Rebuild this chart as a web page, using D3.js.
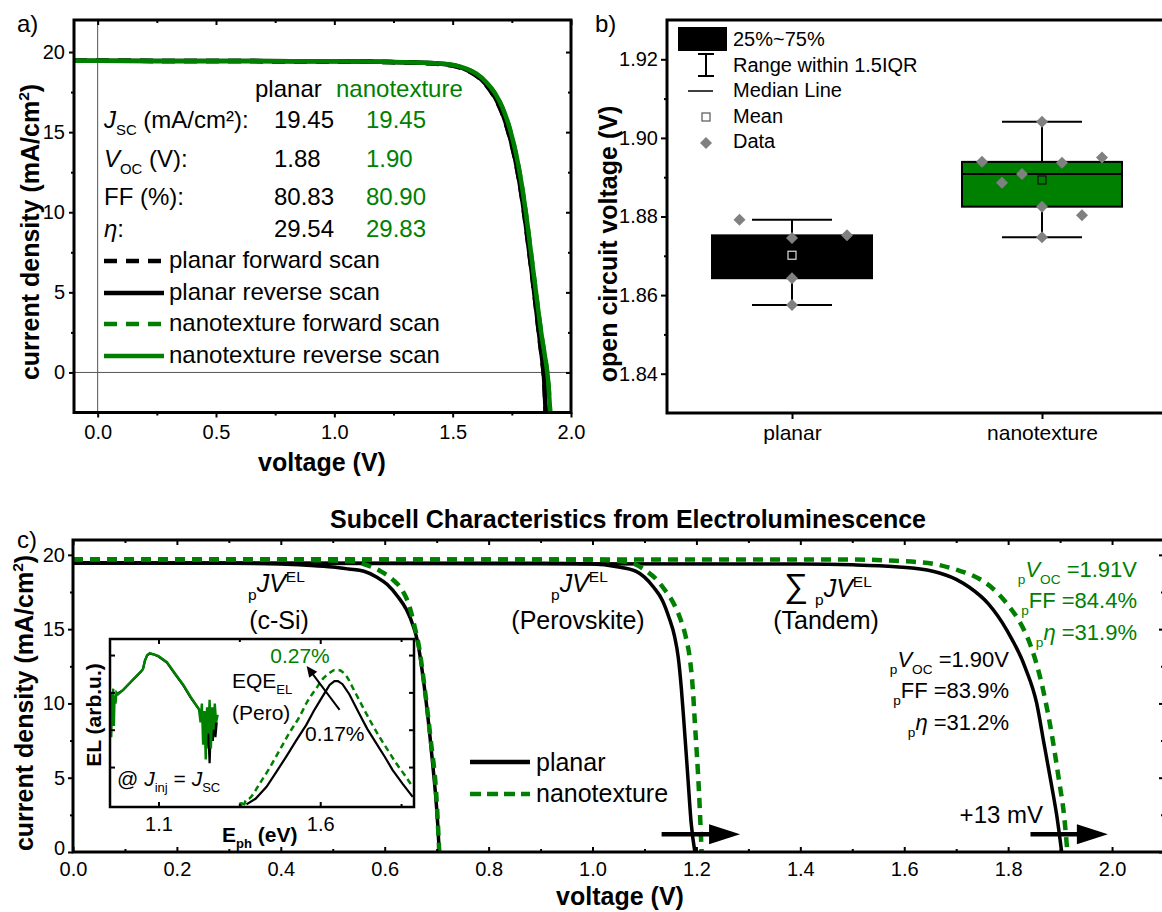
<!DOCTYPE html>
<html>
<head>
<meta charset="utf-8">
<script src="https://cdn.jsdelivr.net/npm/d3@7"></script>
<style>
  body { margin: 0; background: #fff; }
  svg { font-family: "Liberation Sans", Arial, sans-serif; }
</style>
</head>
<body>
<div id="fig"></div>
<script>
const green = '#008000';

// ---- panel a: measured J-V scans (V, J)
const planarRev = [[-0.1,19.45],[0,19.45],[0.5,19.44],[1.0,19.42],[1.2,19.39],[1.35,19.34],[1.46,19.25],[1.52,19.1],[1.56,18.88],[1.6,18.55],[1.64,18.0],[1.68,17.15],[1.71,16.2],[1.74,14.8],[1.77,12.9],[1.79,11.2],[1.81,9.1],[1.835,6.2],[1.855,3.7],[1.87,1.8],[1.88,0.6],[1.886,-0.3],[1.893,-2.5]];
const planarFwd = [[-0.1,19.45],[0,19.45],[0.5,19.44],[1.0,19.41],[1.2,19.38],[1.35,19.33],[1.46,19.23],[1.52,19.08],[1.56,18.86],[1.6,18.52],[1.64,17.97],[1.68,17.1],[1.71,16.15],[1.74,14.75],[1.77,12.85],[1.79,11.15],[1.81,9.05],[1.835,6.15],[1.855,3.65],[1.87,1.75],[1.88,0.55],[1.886,-0.35],[1.893,-2.5]];
const nanoRev = [[-0.1,19.45],[0,19.45],[0.5,19.44],[1.0,19.42],[1.2,19.39],[1.35,19.35],[1.46,19.27],[1.52,19.14],[1.56,18.95],[1.6,18.65],[1.64,18.15],[1.68,17.4],[1.71,16.55],[1.74,15.3],[1.77,13.5],[1.79,11.9],[1.81,9.9],[1.835,7.0],[1.858,4.3],[1.876,2.3],[1.89,1.0],[1.898,0.2],[1.904,-0.6],[1.912,-2.5]];
const nanoFwd = [[-0.1,19.45],[0,19.45],[0.5,19.44],[1.0,19.41],[1.2,19.38],[1.35,19.34],[1.46,19.26],[1.52,19.12],[1.56,18.93],[1.6,18.62],[1.64,18.12],[1.68,17.37],[1.71,16.5],[1.74,15.25],[1.77,13.45],[1.79,11.85],[1.81,9.85],[1.835,6.95],[1.858,4.25],[1.876,2.25],[1.89,0.95],[1.898,0.15],[1.904,-0.65],[1.912,-2.5]];
const tableLabels = ['Jsc', 'Voc', 'FF', 'eta'];
const planarParams = ['19.45', '1.88', '80.83', '29.54'];
const nanoParams = ['19.45', '1.90', '80.90', '29.83'];
const scanNames = ['planar forward scan', 'planar reverse scan', 'nanotexture forward scan', 'nanotexture reverse scan'];
const aXMajor = [0, 0.5, 1, 1.5, 2], aXMinor = [0.25, 0.75, 1.25, 1.75];
const aYMajor = [0, 5, 10, 15, 20], aYMinor = [2.5, 7.5, 12.5, 17.5];

// ---- panel b: open circuit voltages
const categories = ['planar', 'nanotexture'];
const planarVoc = [1.8792, 1.8745, 1.8752, 1.8643, 1.8575];
const planarJitter = [-0.21, 0, 0.22, 0, 0];
const nanoVoc = [1.8939, 1.8886, 1.8908, 1.9041, 1.8825, 1.8747, 1.8937, 1.8803, 1.8950];
const nanoJitter = [-0.24, -0.16, -0.08, 0, 0, 0, 0.08, 0.16, 0.24];
const bYMajor = [1.84, 1.86, 1.88, 1.90, 1.92], bYMinor = [1.85, 1.87, 1.89, 1.91];
const bLegend = ['25%~75%', 'Range within 1.5IQR', 'Median Line', 'Mean', 'Data'];

// ---- panel c: pseudo J-V from EL (V, J)
const siPlanar = [[0,19.45],[0.3,19.43],[0.4,19.38],[0.45,19.3],[0.5,19.18],[0.53,19.05],[0.56,18.9],[0.585,18.5],[0.605,18.0],[0.625,17.2],[0.642,16.3],[0.655,15.2],[0.663,14.2],[0.677,10.9],[0.691,6.4],[0.702,1.9],[0.705,0]];
const siNano = [[0,19.7],[0.4,19.68],[0.5,19.62],[0.541,19.55],[0.57,19.25],[0.592,18.9],[0.615,18.35],[0.634,17.6],[0.647,16.6],[0.656,15.4],[0.667,13.6],[0.677,11.0],[0.689,7.4],[0.699,4.0],[0.705,0]];
const peroPlanar = [[0,19.45],[0.9,19.43],[1.0,19.38],[1.047,19.2],[1.083,18.9],[1.1,18.5],[1.118,17.8],[1.135,16.9],[1.147,15.8],[1.158,14.5],[1.165,13.1],[1.171,11.0],[1.176,8.7],[1.183,5.3],[1.19,1.9],[1.197,0]];
const peroNano = [[0,19.7],[1.0,19.68],[1.06,19.55],[1.083,19.35],[1.104,18.9],[1.123,18.35],[1.14,17.6],[1.155,16.8],[1.168,15.8],[1.18,14.4],[1.187,13.1],[1.193,11.0],[1.197,8.7],[1.205,4.0],[1.21,0]];
const tandemPlanar = [[0,19.45],[1.4,19.38],[1.5,19.33],[1.583,19.2],[1.655,18.9],[1.7,18.35],[1.726,17.8],[1.762,16.7],[1.798,14.9],[1.833,12.4],[1.855,10.0],[1.869,7.3],[1.883,4.6],[1.894,2.35],[1.903,0]];
const tandemNano = [[0,19.7],[1.5,19.68],[1.583,19.6],[1.655,19.4],[1.7,19.0],[1.726,18.7],[1.765,17.9],[1.798,16.7],[1.822,15.5],[1.84,14.2],[1.862,11.7],[1.88,8.7],[1.898,4.8],[1.908,2.35],[1.914,0]];
const shiftArrows = [[1.133, 1.284, 1.2], [1.843, 1.992, 1.2]]; // [from V, to V, at J]
const cXMajor = [0, 0.2, 0.4, 0.6, 0.8, 1.0, 1.2, 1.4, 1.6, 1.8, 2.0];
const cXMinor = [0.1, 0.3, 0.5, 0.7, 0.9, 1.1, 1.3, 1.5, 1.7, 1.9];
const cYMajor = [0, 5, 10, 15, 20], cYMinor = [2.5, 7.5, 12.5, 17.5];

// ---- inset: EL spectra (E_ph in eV, EL arb. u.)
const elSiPlanar = [[0.95,2.6],[0.97,2.95],[0.99,3.06],[1.02,3.33],[1.045,3.55],[1.052,3.63],[1.058,3.85],[1.065,3.99],[1.073,4.04],[1.085,4.02],[1.10,3.96],[1.126,3.8],[1.15,3.5],[1.177,3.18],[1.20,2.85],[1.229,2.5],[1.24,2.2],[1.248,1.5],[1.252,2.3],[1.258,1.1],[1.262,2.1],[1.268,1.7],[1.272,2.5],[1.276,1.8],[1.28,2.2]];
const elSiNano = [[0.950,2.3],[0.952,3.0],[0.954,1.8],[0.956,2.9],[0.958,2.4],[0.960,3.1],[0.962,2.1],[0.964,2.9],[0.967,2.7],[0.970,3.0],[0.975,2.95],[0.99,3.06],[1.02,3.33],[1.045,3.55],[1.052,3.62],[1.058,3.85],[1.065,4.0],[1.073,4.05],[1.085,4.02],[1.10,3.97],[1.126,3.81],[1.15,3.52],[1.177,3.2],[1.20,2.87],[1.225,2.55],[1.230,2.2],[1.234,2.7],[1.238,1.6],[1.242,2.5],[1.246,1.2],[1.250,2.6],[1.254,1.9],[1.258,2.8],[1.262,1.5],[1.266,2.6],[1.270,2.0],[1.274,2.7],[1.278,2.2],[1.283,2.4]];
const elPeroPlanar = [[1.372,0.0],[1.40,0.15],[1.434,0.47],[1.465,0.88],[1.495,1.28],[1.525,1.7],[1.557,2.13],[1.58,2.5],[1.598,2.76],[1.615,3.0],[1.629,3.2],[1.644,3.3],[1.655,3.3],[1.669,3.22],[1.69,2.95],[1.72,2.44],[1.745,2.03],[1.773,1.64],[1.80,1.27],[1.824,0.92],[1.855,0.55],[1.886,0.2]];
const elPeroNano = [[1.351,0.05],[1.356,-0.02],[1.36,0.1],[1.365,0.0],[1.37,0.12],[1.38,0.15],[1.413,0.56],[1.445,1.0],[1.475,1.46],[1.505,1.92],[1.536,2.35],[1.56,2.75],[1.588,3.11],[1.61,3.38],[1.629,3.52],[1.645,3.6],[1.656,3.6],[1.68,3.45],[1.705,3.05],[1.731,2.62],[1.757,2.2],[1.783,1.81],[1.81,1.44],[1.835,1.1],[1.86,0.8],[1.886,0.47]];
const eqeArrow = [[1.66, 2.53], [1.558, 3.71]];
const insetXMajor = [1.1, 1.6], insetXMinor = [1.35, 1.85], insetYTicks = [1, 2, 3, 4];

const svg = d3.select('#fig').append('svg')
    .attr('width', 1162)
    .attr('height', 912);

function addAxis(g, scale, side, pos, vals, size, pad, fmt, fs) {
    let gen = {bottom: d3.axisBottom, top: d3.axisTop, left: d3.axisLeft, right: d3.axisRight}[side](scale)
        .tickValues(vals)
        .tickSize(size)
        .tickPadding(pad)
        .tickFormat(fmt || (() => ''));
    let tr = (side === 'bottom' || side === 'top') ? `translate(0,${pos})` : `translate(${pos},0)`;
    let a = g.append('g')
        .attr('transform', tr)
        .call(gen)
        .attr('font-family', null)
        .attr('font-size', fs || 20);
    a.select('.domain').remove();
    a.selectAll('.tick line').attr('stroke', '#000').attr('stroke-width', 2);
    a.selectAll('.tick text').attr('fill', '#000');
    return a;
}

function frame(g, x, y, color) {
    g.append('rect')
        .attr('x', x.range()[0]).attr('y', y.range()[1])
        .attr('width', x.range()[1] - x.range()[0])
        .attr('height', y.range()[0] - y.range()[1])
        .attr('fill', color || 'none')
        .attr('stroke', '#000')
        .attr('stroke-width', 3);
}

// text with sub/superscripts; parts are strings or [string, {i, sub, sup, big}]
function rich(g, x, y, parts, o) {
    let t = g.append('text')
        .attr('x', x).attr('y', y)
        .attr('font-size', o.size)
        .attr('fill', o.color || '#000')
        .attr('text-anchor', o.anchor || 'start');
    if (o.bold) t.attr('font-weight', 'bold');
    if (o.rotate) t.attr('transform', `rotate(-90,${x},${y})`);
    let shift = 0;
    parts.forEach(p => {
        let [str, st] = typeof p === 'string' ? [p, {}] : p;
        let target = st.sub ? o.size * 0.3 : st.sup ? -o.size * 0.42 : 0;
        let ts = t.append('tspan').text(str).attr('dy', target - shift);
        shift = target;
        if (st.sub || st.sup) ts.attr('font-size', o.size * 0.62);
        if (st.big) ts.attr('font-size', o.size * 1.35);
        if (st.i) ts.attr('font-style', 'italic');
    });
    return t;
}

function plain(g, x, y, str, size, o) {
    o = o || {};
    return g.append('text')
        .attr('x', x).attr('y', y)
        .attr('font-size', size)
        .attr('fill', o.color || '#000')
        .attr('font-weight', o.bold ? 'bold' : null)
        .attr('text-anchor', o.anchor || 'start')
        .text(str);
}

// ================= panel a =================
const ga = svg.append('g');
const xa = d3.scaleLinear().domain([-0.1, 2.0]).range([74, 571]);
const ya = d3.scaleLinear().domain([-2.5, 22]).range([412.5, 20]);

ga.append('line').attr('x1', xa(0)).attr('x2', xa(0)).attr('y1', 20).attr('y2', 412.5)
    .attr('stroke', '#555').attr('stroke-width', 1);
ga.append('line').attr('x1', 74).attr('x2', 571).attr('y1', ya(0)).attr('y2', ya(0))
    .attr('stroke', '#555').attr('stroke-width', 1);

const lineA = d3.line().x(d => xa(d[0])).y(d => ya(d[1])).curve(d3.curveMonotoneX);
const scans = [
    {data: planarFwd, color: '#000', dash: '13,9'},
    {data: nanoFwd, color: green, dash: '13,9'},
    {data: planarRev, color: '#000', dash: null},
    {data: nanoRev, color: green, dash: null}
];
ga.selectAll('path.scan')
    .data(scans)
    .join('path')
    .attr('class', 'scan')
    .attr('d', d => lineA(d.data))
    .attr('fill', 'none')
    .attr('stroke', d => d.color)
    .attr('stroke-width', 4.5)
    .attr('stroke-dasharray', d => d.dash);

addAxis(ga, xa, 'bottom', 412.5, aXMajor, 5, 7.5, d3.format('.1f'));
addAxis(ga, xa, 'bottom', 412.5, aXMinor, 3, 0);
addAxis(ga, xa, 'top', 20, aXMajor, -5, 0);
addAxis(ga, xa, 'top', 20, aXMinor, -3, 0);
addAxis(ga, ya, 'left', 74, aYMajor, 5, 4, d3.format('d'));
addAxis(ga, ya, 'left', 74, aYMinor, 3, 0);
addAxis(ga, ya, 'right', 571, aYMajor, -5, 0);
addAxis(ga, ya, 'right', 571, aYMinor, -3, 0);
frame(ga, xa, ya);

plain(ga, 17, 32, 'a)', 24);
plain(ga, 322, 471, 'voltage (V)', 25, {bold: true, anchor: 'middle'});
rich(ga, 39, 232, ['current density (mA/cm', ['2', {sup: true}], ')'], {size: 25, bold: true, anchor: 'middle', rotate: true});

// parameter table
plain(ga, 255, 97, 'planar', 24);
plain(ga, 336, 97, 'nanotexture', 24, {color: green});
const rowBase = [128, 167, 205, 237];
const rowLabel = {
    Jsc: [['J', {i: true}], ['SC', {sub: true}], ' (mA/cm²):'],
    Voc: [['V', {i: true}], ['OC', {sub: true}], ' (V):'],
    FF: ['FF (%):'],
    eta: [['η', {i: true}], ':']
};
tableLabels.forEach((k, i) => {
    rich(ga, 104, rowBase[i], rowLabel[k], {size: 24});
    plain(ga, 274, rowBase[i], planarParams[i], 24);
    plain(ga, 366, rowBase[i], nanoParams[i], 24, {color: green});
});

// scan legend
const legBase = [268, 300, 331, 363];
const legOrder = [scans[0], scans[2], scans[1], scans[3]];
legOrder.forEach((s, i) => {
    ga.append('line')
        .attr('x1', 104).attr('x2', 164)
        .attr('y1', legBase[i] - 7).attr('y2', legBase[i] - 7)
        .attr('stroke', s.color).attr('stroke-width', 4.5)
        .attr('stroke-dasharray', s.dash);
    plain(ga, 169, legBase[i], scanNames[i], 24);
});

// ================= panel b =================
const gb = svg.append('g');
const xb = d3.scaleLinear().domain([0.5, 2.5]).range([667, 1167]);
const yb = d3.scaleLinear().domain([1.83, 1.93]).range([413, 20]);

const groups = [
    {vals: planarVoc, jit: planarJitter, fill: '#000', meanStroke: '#ddd'},
    {vals: nanoVoc, jit: nanoJitter, fill: green, meanStroke: '#111'}
];
const diamond = d3.symbol().type(d3.symbolSquare).size(72);

groups.forEach((gr, i) => {
    let s = gr.vals.slice().sort(d3.ascending);
    let q1 = d3.quantile(s, 0.25), med = d3.quantile(s, 0.5), q3 = d3.quantile(s, 0.75);
    let iqr = q3 - q1;
    let lo = d3.min(s.filter(v => v >= q1 - 1.5 * iqr));
    let hi = d3.max(s.filter(v => v <= q3 + 1.5 * iqr));
    let mean = d3.mean(s);
    let c = i + 1;
    let bg = gb.append('g');

    bg.append('line').attr('x1', xb(c)).attr('x2', xb(c)).attr('y1', yb(hi)).attr('y2', yb(lo))
        .attr('stroke', '#000').attr('stroke-width', 2);
    [lo, hi].forEach(v => bg.append('line')
        .attr('x1', xb(c - 0.16)).attr('x2', xb(c + 0.16))
        .attr('y1', yb(v)).attr('y2', yb(v))
        .attr('stroke', '#000').attr('stroke-width', 2));
    bg.append('rect')
        .attr('x', xb(c - 0.32)).attr('width', xb(c + 0.32) - xb(c - 0.32))
        .attr('y', yb(q3)).attr('height', yb(q1) - yb(q3))
        .attr('fill', gr.fill).attr('stroke', '#000').attr('stroke-width', 2);
    bg.append('line')
        .attr('x1', xb(c - 0.32)).attr('x2', xb(c + 0.32))
        .attr('y1', yb(med)).attr('y2', yb(med))
        .attr('stroke', '#000').attr('stroke-width', 2);
    bg.selectAll('path.pt')
        .data(gr.vals)
        .join('path')
        .attr('class', 'pt')
        .attr('d', diamond)
        .attr('transform', (d, j) => `translate(${xb(c + gr.jit[j])},${yb(d)}) rotate(45)`)
        .attr('fill', '#808080');
    bg.append('rect')
        .attr('x', xb(c) - 4).attr('y', yb(mean) - 4)
        .attr('width', 8).attr('height', 8)
        .attr('fill', 'none').attr('stroke', gr.meanStroke).attr('stroke-width', 1.2);
});

addAxis(gb, yb, 'left', 667, bYMajor, 6, 3, d3.format('.2f'));
addAxis(gb, yb, 'left', 667, bYMinor, 3, 0);
addAxis(gb, xb, 'bottom', 413, [1, 2], 6, 6, (d, i) => categories[i], 21);
frame(gb, xb, yb);

plain(gb, 595, 32, 'b)', 24);
gb.append('text')
    .attr('transform', 'translate(617,244) rotate(-90)')
    .attr('text-anchor', 'middle')
    .attr('font-size', 25).attr('font-weight', 'bold')
    .text('open circuit voltage (V)');

// legend
const lgY = [46, 72, 97, 123, 148];
bLegend.forEach((t, i) => plain(gb, 733, lgY[i], t, 20));
gb.append('rect').attr('x', 678).attr('y', 27).attr('width', 49).attr('height', 24).attr('fill', '#000');
gb.append('line').attr('x1', 706).attr('x2', 706).attr('y1', 54).attr('y2', 76).attr('stroke', '#000').attr('stroke-width', 2);
[54, 76].forEach(v => gb.append('line').attr('x1', 698).attr('x2', 714).attr('y1', v).attr('y2', v).attr('stroke', '#000').attr('stroke-width', 2));
gb.append('line').attr('x1', 688).attr('x2', 713).attr('y1', 91).attr('y2', 91).attr('stroke', '#000').attr('stroke-width', 1.5);
gb.append('rect').attr('x', 702).attr('y', 113).attr('width', 8).attr('height', 8)
    .attr('fill', '#fff').attr('stroke', '#555').attr('stroke-width', 1.2);
gb.append('path').attr('d', diamond).attr('transform', 'translate(706,143) rotate(45)').attr('fill', '#808080');

// ================= panel c =================
const gc = svg.append('g');
const xc = d3.scaleLinear().domain([0, 2.1]).range([73, 1164]);
const yc = d3.scaleLinear().domain([0, 21]).range([852, 540]);
const lineC = d3.line().x(d => xc(d[0])).y(d => yc(d[1])).curve(d3.curveMonotoneX);

const subcells = [
    {data: siPlanar, color: '#000', w: 3.5, dash: null},
    {data: peroPlanar, color: '#000', w: 3.5, dash: null},
    {data: tandemPlanar, color: '#000', w: 3.5, dash: null},
    {data: siNano, color: green, w: 4.5, dash: '10,7'},
    {data: peroNano, color: green, w: 4.5, dash: '10,7'},
    {data: tandemNano, color: green, w: 4.5, dash: '10,7'}
];
gc.selectAll('path.jv')
    .data(subcells)
    .join('path')
    .attr('class', 'jv')
    .attr('d', d => lineC(d.data))
    .attr('fill', 'none')
    .attr('stroke', d => d.color)
    .attr('stroke-width', d => d.w)
    .attr('stroke-dasharray', d => d.dash);

// shift arrows
shiftArrows.forEach(a => {
    let x0 = xc(a[0]), x1 = xc(a[1]), y = yc(a[2]);
    gc.append('line').attr('x1', x0).attr('x2', x1 - 28).attr('y1', y).attr('y2', y)
        .attr('stroke', '#000').attr('stroke-width', 4.5);
    gc.append('path').attr('d', `M${x1},${y}L${x1 - 31},${y - 10}L${x1 - 31},${y + 10}Z`).attr('fill', '#000');
});

addAxis(gc, xc, 'bottom', 852, cXMajor, -5, 10, d3.format('.1f'));
addAxis(gc, xc, 'bottom', 852, cXMinor, -3, 0);
addAxis(gc, xc, 'top', 540, cXMajor, -5, 0);
addAxis(gc, xc, 'top', 540, cXMinor, -3, 0);
addAxis(gc, yc, 'left', 73, cYMajor, 5, 3, d3.format('d'))
    .selectAll('.tick text').filter(d => d === 0).attr('dy', '0.1em');
addAxis(gc, yc, 'left', 73, cYMinor, 3, 0);
addAxis(gc, yc, 'right', 1164, cYMajor, -5, 0);
addAxis(gc, yc, 'right', 1164, cYMinor, -3, 0);
frame(gc, xc, yc);

plain(gc, 17, 548, 'c)', 24);
plain(gc, 628, 528, 'Subcell Characteristics from Electroluminescence', 25, {bold: true, anchor: 'middle'});
plain(gc, 620, 905, 'voltage (V)', 25, {bold: true, anchor: 'middle'});
rich(gc, 33, 703, ['current density (mA/cm', ['2', {sup: true}], ')'], {size: 25, bold: true, anchor: 'middle', rotate: true});

const pJV = [['p', {sub: true}], ['JV', {i: true}], ['EL', {sup: true}]];
rich(gc, 248, 592, pJV, {size: 25});
plain(gc, 279, 629, '(c-Si)', 25, {anchor: 'middle'});
rich(gc, 551, 592, pJV, {size: 25});
plain(gc, 578, 629, '(Perovskite)', 25, {anchor: 'middle'});
rich(gc, 784, 597, [['∑', {big: true}], ' '].concat(pJV), {size: 25});
plain(gc, 826, 629, '(Tandem)', 25, {anchor: 'middle'});

rich(gc, 1009, 667, [['p', {sub: true}], ['V', {i: true}], ['OC', {sub: true}], ' =1.90V'], {size: 22, anchor: 'end'});
rich(gc, 1009, 698, [['p', {sub: true}], 'FF =83.9%'], {size: 22, anchor: 'end'});
rich(gc, 1009, 730, [['p', {sub: true}], ['η', {i: true}], ' =31.2%'], {size: 22, anchor: 'end'});
rich(gc, 1137, 577, [['p', {sub: true}], ['V', {i: true}], ['OC', {sub: true}], ' =1.91V'], {size: 22, anchor: 'end', color: green});
rich(gc, 1137, 608, [['p', {sub: true}], 'FF =84.4%'], {size: 22, anchor: 'end', color: green});
rich(gc, 1137, 640, [['p', {sub: true}], ['η', {i: true}], ' =31.9%'], {size: 22, anchor: 'end', color: green});
plain(gc, 1043, 823, '+13 mV', 24, {anchor: 'end'});

// legend
gc.append('line').attr('x1', 470).attr('x2', 530).attr('y1', 762).attr('y2', 762)
    .attr('stroke', '#000').attr('stroke-width', 4.5);
gc.append('line').attr('x1', 470).attr('x2', 530).attr('y1', 794).attr('y2', 794)
    .attr('stroke', green).attr('stroke-width', 4.5).attr('stroke-dasharray', '11,6');
plain(gc, 536, 771, 'planar', 25);
plain(gc, 536, 802, 'nanotexture', 25);

// ================= inset =================
const gi = svg.append('g');
const xi = d3.scaleLinear().domain([0.95, 1.89]).range([110, 414]);
const yi = d3.scaleLinear().domain([-0.07, 4.43]).range([807, 639]);
gi.append('rect').attr('x', 110).attr('y', 639).attr('width', 304).attr('height', 168).attr('fill', '#fff');
gi.append('clipPath').attr('id', 'inclip').append('rect')
    .attr('x', 110).attr('y', 639).attr('width', 304).attr('height', 168);
const lineI = d3.line().x(d => xi(d[0])).y(d => yi(d[1]));
const spectra = [
    {data: elSiPlanar, color: '#000', w: 2.2, dash: null},
    {data: elSiNano, color: green, w: 2.4, dash: null},
    {data: elPeroPlanar, color: '#000', w: 2.2, dash: null},
    {data: elPeroNano, color: green, w: 2.5, dash: '6,4'}
];
gi.append('g').attr('clip-path', 'url(#inclip)')
    .selectAll('path')
    .data(spectra)
    .join('path')
    .attr('d', d => lineI.curve(d.dash ? d3.curveMonotoneX : d3.curveLinear)(d.data))
    .attr('fill', 'none')
    .attr('stroke', d => d.color)
    .attr('stroke-width', d => d.w)
    .attr('stroke-dasharray', d => d.dash);

addAxis(gi, xi, 'bottom', 807, insetXMajor, -5, 10, d3.format('.1f'));
addAxis(gi, xi, 'bottom', 807, insetXMinor, -3, 0);
addAxis(gi, xi, 'top', 639, insetXMajor, -5, 0);
addAxis(gi, xi, 'top', 639, insetXMinor, -3, 0);
addAxis(gi, yi, 'left', 110, insetYTicks, -5, 0);
addAxis(gi, yi, 'right', 414, insetYTicks, -5, 0);
gi.append('rect').attr('x', 110).attr('y', 639).attr('width', 304).attr('height', 168)
    .attr('fill', 'none').attr('stroke', '#000').attr('stroke-width', 2.5);

rich(gi, 222, 842, ['E', ['ph', {sub: true}], ' (eV)'], {size: 21, bold: true});
plain(gi, 0, 0, 'EL (arb.u.)', 21, {bold: true, anchor: 'middle'})
    .attr('transform', 'translate(101,715) rotate(-90)');
plain(gi, 300, 663, '0.27%', 21, {anchor: 'middle', color: green});
rich(gi, 232, 688, ['EQE', ['EL', {sub: true}]], {size: 21});
plain(gi, 232, 720, '(Pero)', 21);
plain(gi, 305, 741, '0.17%', 21);
rich(gi, 117, 786, ['@ ', ['J', {i: true}], ['inj', {sub: true}], ' = ', ['J', {i: true}], ['SC', {sub: true}]], {size: 21});

let a0 = [xi(eqeArrow[0][0]), yi(eqeArrow[0][1])], a1 = [xi(eqeArrow[1][0]), yi(eqeArrow[1][1])];
let ang = Math.atan2(a1[1] - a0[1], a1[0] - a0[0]);
gi.append('line').attr('x1', a0[0]).attr('y1', a0[1])
    .attr('x2', a1[0] - 8 * Math.cos(ang)).attr('y2', a1[1] - 8 * Math.sin(ang))
    .attr('stroke', '#000').attr('stroke-width', 2);
gi.append('path').attr('d', 'M0,0L-11,-5L-11,5Z').attr('fill', '#000')
    .attr('transform', `translate(${a1[0]},${a1[1]}) rotate(${ang * 180 / Math.PI})`);
</script>
</body>
</html>
